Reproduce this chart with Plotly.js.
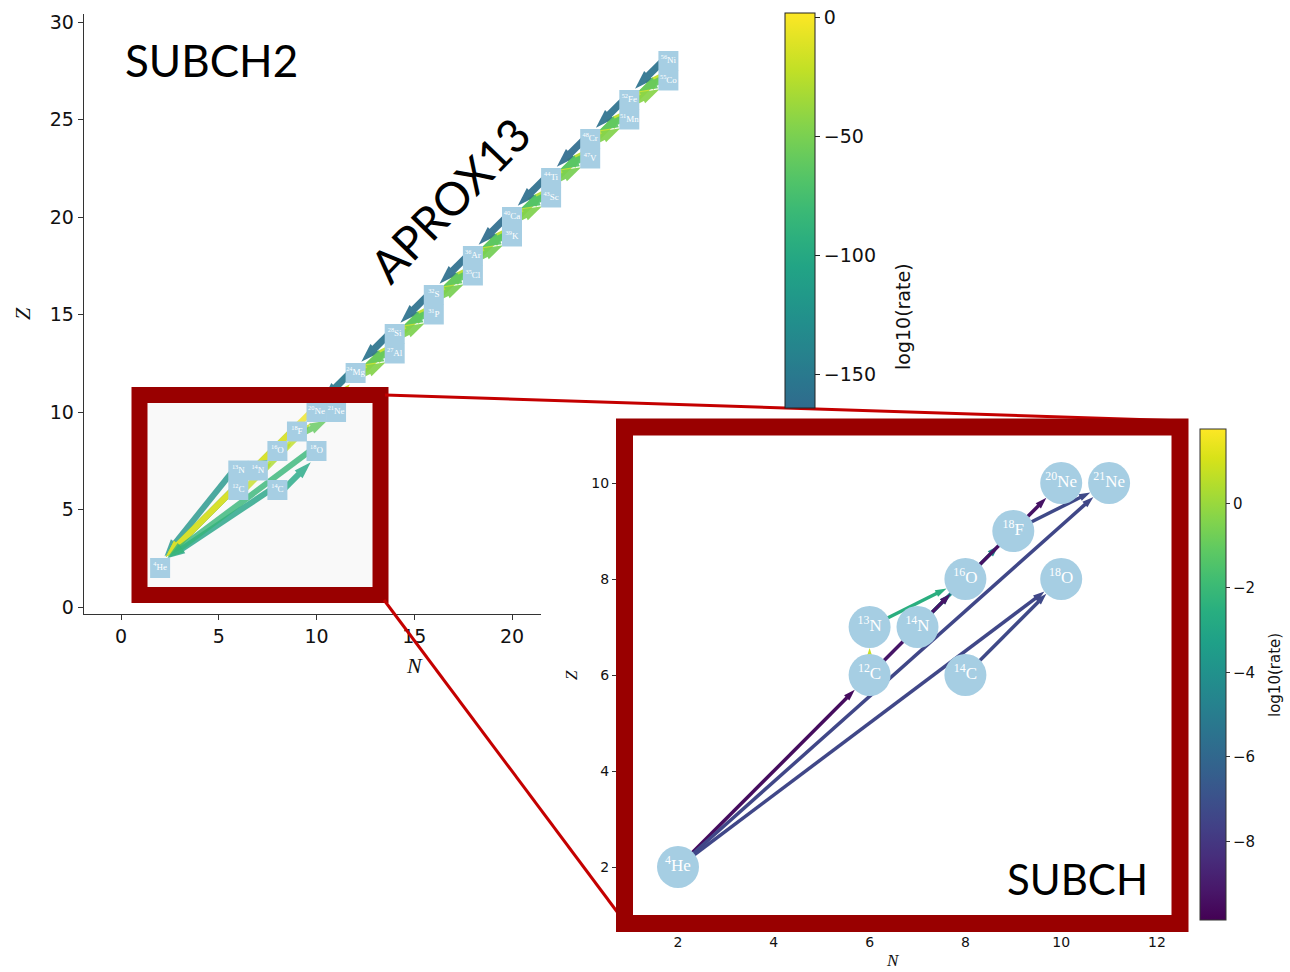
<!DOCTYPE html>
<html><head><meta charset="utf-8">
<script src="https://cdn.plot.ly/plotly-3.0.1.min.js"></script>
<style>html,body{margin:0;padding:0;background:#fff}</style>
</head><body>
<div id="chart" style="width:1290px;height:972px"></div>
<script>
// ---------------- data ----------------
const mainNodeNames = ['4He','12C','13N','14N','14C','16O','18O','18F','20Ne','21Ne','24Mg','27Al','28Si','31P','32S','35Cl','36Ar','39K','40Ca','43Sc','44Ti','47V','48Cr','51Mn','52Fe','55Co','56Ni'];
const mainNodeN = [2,6,6,7,8,8,10,9,10,11,12,14,14,16,16,18,18,20,20,22,22,24,24,26,26,28,28];
const mainNodeZ = [2,6,7,7,6,8,8,9,10,10,12,13,14,15,16,17,18,19,20,21,22,23,24,25,26,27,28];

const mainEdgeFrom = ['12C','13N','14N','16O','18F','20Ne','14C','18O','12C','12C','13N','14N','16O','14C','18F','20Ne','24Mg',
  '24Mg','28Si','24Mg','27Al','27Al','28Si',
  '28Si','32S','28Si','31P','31P','32S',
  '32S','36Ar','32S','35Cl','35Cl','36Ar',
  '36Ar','40Ca','36Ar','39K','39K','40Ca',
  '40Ca','44Ti','40Ca','43Sc','43Sc','44Ti',
  '44Ti','48Cr','44Ti','47V','47V','48Cr',
  '48Cr','52Fe','48Cr','51Mn','51Mn','52Fe',
  '52Fe','56Ni','52Fe','55Co','55Co','56Ni'];
const mainEdgeTo = ['4He','4He','4He','4He','4He','4He','4He','4He','13N','16O','16O','18F','20Ne','18O','21Ne','24Mg','20Ne',
  '28Si','24Mg','27Al','28Si','24Mg','27Al',
  '32S','28Si','31P','32S','28Si','31P',
  '36Ar','32S','35Cl','36Ar','32S','35Cl',
  '40Ca','36Ar','39K','40Ca','36Ar','39K',
  '44Ti','40Ca','43Sc','44Ti','40Ca','43Sc',
  '48Cr','44Ti','47V','48Cr','44Ti','47V',
  '52Fe','48Cr','51Mn','52Fe','48Cr','51Mn',
  '56Ni','52Fe','55Co','56Ni','52Fe','55Co'];
const mainEdgeRate = [-175,-120,-35,-12,-55,-4,-105,-85,-2,-20,-95,-30,-22,-100,-60,-18,-150,
  -22,-155,-45,-3,-60,-140,
  -25,-158,-48,-4,-65,-145,
  -28,-160,-50,-3,-62,-142,
  -26,-162,-52,-5,-66,-148,
  -30,-160,-47,-2,-70,-150,
  -27,-163,-50,-4,-68,-152,
  -24,-158,-46,-3,-64,-147,
  -22,-156,-44,-2,-60,-144];

const insetNodeNames = ['4He','12C','13N','14N','14C','16O','18O','18F','20Ne','21Ne'];
const insetNodeN = [2,6,6,7,8,8,10,9,10,11];
const insetNodeZ = [2,6,7,7,6,8,8,9,10,10];
const insetEdgeFrom = ['12C','4He','14N','14N','13N','16O','12C','4He','18F','4He','14C'];
const insetEdgeTo   = ['13N','12C','18F','16O','16O','20Ne','16O','21Ne','21Ne','18O','18O'];
const insetEdgeRate = [0.8,-9.5,-4.2,-3.8,-2.6,-9.3,-9.2,-7.4,-7.3,-7.4,-7.3];

const mainTicks = [0,5,10,15,20];
const mainYTicks = [0,5,10,15,20,25,30];
const insetXTicks = [2,4,6,8,10,12];
const insetYTicks = [2,4,6,8,10];
const topCbTicks = [0,-50,-100,-150];
const insetCbTicks = [0,-2,-4,-6,-8];

// ---------------- helpers ----------------
const W = 1290, H = 972;
const px = v => v / W, py = v => 1 - v / H;
const VIR = ['#440154','#482475','#414487','#355f8d','#2a788e','#21918c','#22a884','#44bf70','#7ad151','#bddf26','#fde725'];
function hex2rgb(h){return [parseInt(h.substr(1,2),16),parseInt(h.substr(3,2),16),parseInt(h.substr(5,2),16)];}
function viridis(f){
  f = Math.max(0, Math.min(1, f));
  const s = f*10, i = Math.min(9, Math.floor(s)), t = s - i;
  const a = hex2rgb(VIR[i]), b = hex2rgb(VIR[i+1]);
  const c = a.map((v,k)=>Math.round(v + (b[k]-v)*t));
  return 'rgb(' + c.join(',') + ')';
}
function label(name){
  const m = name.match(/^(\d+)([A-Za-z]+)$/);
  return '<sup>' + m[1] + '</sup>' + m[2];
}
const minus = v => (v < 0 ? '\u2212' + Math.abs(v) : String(v));

// main scales (pixels per unit)
const mX0 = 121, mSX = 19.55, mY0 = 607, mSY = 19.5;
const mainXRange = [(84-mX0)/mSX, (541-mX0)/mSX];
const mainYRange = [(mY0-614)/mSY, (mY0-14)/mSY];
const ovXRange = [(84-mX0)/mSX, (720-mX0)/mSX];
// inset scales
const iX0 = 678, iSX = 47.9, iY0 = 867, iSY = 48;
const inXRange = [2 + (617-iX0)/iSX, 2 + (1188-iX0)/iSX];
const inYRange = [2 - (925-iY0)/iSY, 2 + (iY0-419)/iSY];

const FULLMIN = -253, FULLMAX = 1.7;
const TOPMIN = -163.9, TOPMAX = 1.68;
const INMIN = -9.86, INMAX = 1.76;

const traces = [];
// empty trace so the main axes are drawn
traces.push({type:'scatter', mode:'markers', x:[null], y:[null], xaxis:'x', yaxis:'y', hoverinfo:'skip', showlegend:false});
// main edges
const idx = {}; mainNodeNames.forEach((n,i)=>idx[n]=i);
for (let e = 0; e < mainEdgeFrom.length; e++) {
  const a = idx[mainEdgeFrom[e]], b = idx[mainEdgeTo[e]];
  let x0 = mainNodeN[a], y0 = mainNodeZ[a], x1 = mainNodeN[b], y1 = mainNodeZ[b];
  const dx = x1-x0, dy = y1-y0, L = Math.hypot(dx,dy);
  const lower = mainNodeZ[a] <= 10 && mainNodeZ[b] <= 10;
  const shortEdge = L <= 1.01;
  const off = shortEdge ? 0 : 0.2; // right-hand offset so opposite directions separate
  const ox = dy/L*off, oy = -dx/L*off;
  const col = viridis((mainEdgeRate[e]-FULLMIN)/(FULLMAX-FULLMIN));
  traces.push({type:'scatter', mode: shortEdge ? 'lines' : 'lines+markers', x:[x0+ox, x1+ox], y:[y0+oy, y1+oy],
    xaxis:'x2', yaxis:'y2', line:{color:col, width:lower ? 6 : 7},
    marker:{symbol:'arrow', size:lower ? 18 : 20, color:col, angleref:'previous', standoff:12},
    opacity: lower ? 0.8 : 0.92, hoverinfo:'skip', showlegend:false, cliponaxis:false});
}
// main nodes
traces.push({type:'scatter', mode:'markers+text', x:mainNodeN, y:mainNodeZ, xaxis:'x2', yaxis:'y2',
  text: mainNodeNames.map(label), textposition:'middle center',
  textfont:{family:'Liberation Serif, DejaVu Serif, serif', size:9, color:'#ffffff'},
  marker:{symbol:'square', size:20, color:'#a6cee3', line:{width:0}},
  hoverinfo:'skip', showlegend:false, cliponaxis:false});

// inset edges
const iidx = {}; insetNodeNames.forEach((n,i)=>iidx[n]=i);
for (let e = 0; e < insetEdgeFrom.length; e++) {
  const a = iidx[insetEdgeFrom[e]], b = iidx[insetEdgeTo[e]];
  const col = viridis((insetEdgeRate[e]-INMIN)/(INMAX-INMIN));
  traces.push({type:'scatter', mode:'lines+markers',
    x:[insetNodeN[a], insetNodeN[b]], y:[insetNodeZ[a], insetNodeZ[b]],
    xaxis:'x3', yaxis:'y3', line:{color:col, width:3.5},
    marker:{symbol:'arrow', size:12, color:col, angleref:'previous', standoff:21},
    hoverinfo:'skip', showlegend:false});
}
// inset nodes
traces.push({type:'scatter', mode:'markers+text', x:insetNodeN, y:insetNodeZ, xaxis:'x3', yaxis:'y3',
  text: insetNodeNames.map(label), textposition:'middle center',
  textfont:{family:'Liberation Serif, DejaVu Serif, serif', size:17, color:'#ffffff'},
  marker:{symbol:'circle', size:42, color:'#a6cee3', line:{width:0}},
  hoverinfo:'skip', showlegend:false});

// colorbars
const topScale = [];
for (let k = 0; k <= 14; k++) {
  const v = TOPMIN + k/14*(TOPMAX-TOPMIN);
  topScale.push([k/14, viridis((v-FULLMIN)/(FULLMAX-FULLMIN))]);
}
traces.push({type:'scatter', mode:'markers', x:[null], y:[null], xaxis:'x2', yaxis:'y2',
  marker:{color:[TOPMIN,TOPMAX], cmin:TOPMIN, cmax:TOPMAX, colorscale:topScale, showscale:true, opacity:0,
    colorbar:{x:px(785), xanchor:'left', y:py(13), yanchor:'top', xpad:0, ypad:0,
      thickness:30, thicknessmode:'pixels', len:395, lenmode:'pixels',
      outlinewidth:1, outlinecolor:'#222', ticks:'outside', ticklen:5, tickcolor:'#222',
      tickvals:topCbTicks, ticktext:topCbTicks.map(minus),
      tickfont:{family:'DejaVu Sans', size:19, color:'#111'}}},
  hoverinfo:'skip', showlegend:false});
traces.push({type:'scatter', mode:'markers', x:[null], y:[null], xaxis:'x3', yaxis:'y3',
  marker:{color:[INMIN,INMAX], cmin:INMIN, cmax:INMAX, colorscale:'Viridis', showscale:true, opacity:0,
    colorbar:{x:px(1200), xanchor:'left', y:py(429), yanchor:'top', xpad:0, ypad:0,
      thickness:26, thicknessmode:'pixels', len:491, lenmode:'pixels',
      outlinewidth:1, outlinecolor:'#333', ticks:'outside', ticklen:4, tickcolor:'#333',
      tickvals:insetCbTicks, ticktext:insetCbTicks.map(minus),
      tickfont:{family:'DejaVu Sans', size:15, color:'#111'}}},
  hoverinfo:'skip', showlegend:false});

// ---------------- layout ----------------
const axCommon = {showgrid:false, zeroline:false, fixedrange:true};
const layout = {
  width: W, height: H, margin:{l:0,r:0,t:0,b:0}, paper_bgcolor:'#ffffff', plot_bgcolor:'rgba(0,0,0,0)',
  showlegend:false,
  xaxis: Object.assign({}, axCommon, {domain:[px(84), px(541)], range:mainXRange, anchor:'y',
    showline:true, linecolor:'#333', linewidth:1.3, ticks:'outside', ticklen:5, tickcolor:'#333',
    tickvals:mainTicks, ticktext:mainTicks.map(String), tickfont:{family:'DejaVu Sans', size:19, color:'#111'}}),
  yaxis: Object.assign({}, axCommon, {domain:[py(614), py(14)], range:mainYRange, anchor:'x',
    showline:true, linecolor:'#333', linewidth:1.3, ticks:'outside', ticklen:5, tickcolor:'#333',
    tickvals:mainYTicks, ticktext:mainYTicks.map(String), tickfont:{family:'DejaVu Sans', size:19, color:'#111'}}),
  xaxis2: Object.assign({}, axCommon, {domain:[px(84), px(720)], range:ovXRange, anchor:'y2', visible:false}),
  yaxis2: Object.assign({}, axCommon, {domain:[py(614), py(14)], range:mainYRange, anchor:'x2', visible:false}),
  xaxis3: Object.assign({}, axCommon, {domain:[px(617), px(1188)], range:inXRange, anchor:'y3',
    showline:false, ticks:'outside', ticklen:4, tickcolor:'#333',
    tickvals:insetXTicks, tickfont:{family:'DejaVu Sans', size:14, color:'#111'}}),
  yaxis3: Object.assign({}, axCommon, {domain:[py(925), py(419)], range:inYRange, anchor:'x3',
    showline:false, ticks:'outside', ticklen:4, tickcolor:'#333',
    tickvals:insetYTicks, tickfont:{family:'DejaVu Sans', size:14, color:'#111'}}),
  shapes: [
    {type:'rect', xref:'paper', yref:'paper', x0:px(147), x1:px(372), y0:py(587), y1:py(403),
      fillcolor:'#f9f9f9', line:{width:0}, layer:'below'},
    {type:'rect', xref:'paper', yref:'paper', x0:px(139.5), x1:px(380.5), y0:py(595), y1:py(395),
      fillcolor:'rgba(0,0,0,0)', line:{color:'#990000', width:16}, layer:'above'},
    {type:'line', xref:'paper', yref:'paper', x0:px(385), y0:py(395), x1:px(1186), y1:py(421),
      line:{color:'#c40000', width:3}, layer:'above'},
    {type:'line', xref:'paper', yref:'paper', x0:px(384), y0:py(600), x1:px(618), y1:py(913),
      line:{color:'#c40000', width:3}, layer:'above'},
    {type:'rect', xref:'paper', yref:'paper', x0:px(624.5), x1:px(1180), y0:py(923.5), y1:py(427),
      fillcolor:'rgba(0,0,0,0)', line:{color:'#990000', width:17}, layer:'above'}
  ],
  annotations: [
    {text:'SUBCH2', xref:'paper', yref:'paper', x:px(211), y:py(60), showarrow:false,
      font:{family:'Lato, Noto Sans, sans-serif', size:44, color:'#000'}, xanchor:'center', yanchor:'middle'},
    {text:'APROX13', xref:'paper', yref:'paper', x:px(450), y:py(200), showarrow:false, textangle:-46,
      font:{family:'Lato, Noto Sans, sans-serif', size:46, color:'#000'}, xanchor:'center', yanchor:'middle'},
    {text:'SUBCH', xref:'paper', yref:'paper', x:px(1077), y:py(879), showarrow:false,
      font:{family:'Lato, Noto Sans, sans-serif', size:42, color:'#000'}, xanchor:'center', yanchor:'middle'},
    {text:'<i>N</i>', xref:'paper', yref:'paper', x:px(414), y:py(665), showarrow:false,
      font:{family:'Liberation Serif, DejaVu Serif, serif', size:22, color:'#111'}, xanchor:'center', yanchor:'middle'},
    {text:'<i>Z</i>', xref:'paper', yref:'paper', x:px(22), y:py(314), showarrow:false, textangle:-90,
      font:{family:'Liberation Serif, DejaVu Serif, serif', size:22, color:'#111'}, xanchor:'center', yanchor:'middle'},
    {text:'<i>N</i>', xref:'paper', yref:'paper', x:px(893), y:py(960), showarrow:false,
      font:{family:'Liberation Serif, DejaVu Serif, serif', size:17, color:'#111'}, xanchor:'center', yanchor:'middle'},
    {text:'<i>Z</i>', xref:'paper', yref:'paper', x:px(571), y:py(675), showarrow:false, textangle:-90,
      font:{family:'Liberation Serif, DejaVu Serif, serif', size:17, color:'#111'}, xanchor:'center', yanchor:'middle'},
    {text:'log10(rate)', xref:'paper', yref:'paper', x:px(903), y:py(316), showarrow:false, textangle:-90,
      font:{family:'DejaVu Sans', size:19, color:'#111'}, xanchor:'center', yanchor:'middle'},
    {text:'log10(rate)', xref:'paper', yref:'paper', x:px(1275), y:py(675), showarrow:false, textangle:-90,
      font:{family:'DejaVu Sans', size:15, color:'#111'}, xanchor:'center', yanchor:'middle'}
  ]
};
Plotly.newPlot('chart', traces, layout, {displayModeBar:false, staticPlot:true});
</script>
</body></html>
